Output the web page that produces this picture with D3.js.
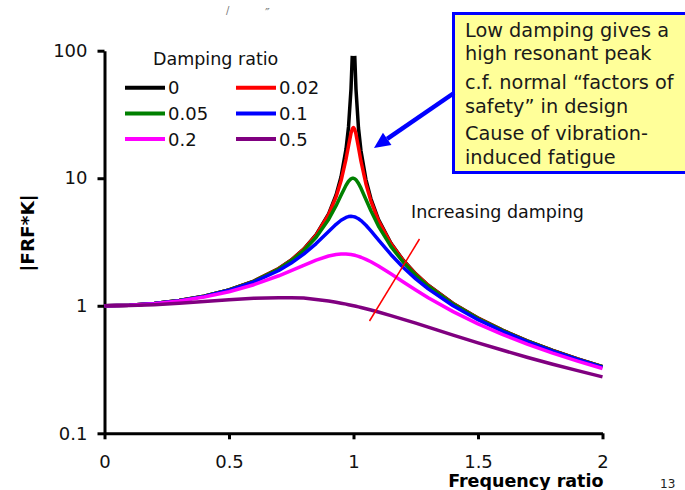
<!DOCTYPE html>
<html>
<head>
<meta charset="utf-8">
<script src="https://cdn.jsdelivr.net/npm/d3@7"></script>
<style>
  body { margin: 0; background: #fff; }
  text { font-family: "DejaVu Sans", Verdana, sans-serif; }
</style>
</head>
<body>
<div id="chart"></div>
<script>
// frequency ratio samples (finer near resonance)
const ratio = [0, 0.1, 0.2, 0.3, 0.4, 0.5, 0.6, 0.7, 0.75, 0.8, 0.85, 0.9, 0.93, 0.95, 0.97, 0.98, 0.99, 0.995,
    1.0, 1.005, 1.01, 1.02, 1.03, 1.05, 1.07, 1.1, 1.15, 1.2, 1.25, 1.3, 1.4, 1.5, 1.6, 1.7, 1.8, 1.9, 2.0];

const damping = ["0", "0.02", "0.05", "0.1", "0.2", "0.5"];

const frf0   = [1, 1.01, 1.042, 1.099, 1.19, 1.333, 1.563, 1.961, 2.286, 2.778, 3.604, 5.263, 7.402, 10.26, 16.92, 25.25, 50.25, 91,
    null, 91, 49.75, 24.75, 16.42, 9.756, 6.901, 4.762, 3.101, 2.273, 1.778, 1.449, 1.042, 0.8, 0.641, 0.529, 0.446, 0.383, 0.333];
const frf002 = [1, 1.01, 1.042, 1.099, 1.19, 1.333, 1.561, 1.958, 2.28, 2.767, 3.577, 5.171, 7.136, 9.556, 14.14, 17.95, 22.56, 24.37,
    25.0, 24.14, 22.16, 17.42, 13.6, 9.028, 6.619, 4.661, 3.07, 2.259, 1.771, 1.445, 1.04, 0.799, 0.6405, 0.5288, 0.4462, 0.383, 0.3332];
const frf005 = [1, 1.01, 1.041, 1.098, 1.189, 1.33, 1.556, 1.943, 2.253, 2.712, 3.446, 4.757, 6.097, 7.346, 8.804, 9.461, 9.903, 10.0,
    10.0, 9.901, 9.711, 9.115, 8.357, 6.815, 5.552, 4.218, 2.921, 2.193, 1.736, 1.424, 1.031, 0.794, 0.638, 0.527, 0.445, 0.382, 0.333];
const frf01  = [1, 1.01, 1.041, 1.097, 1.185, 1.322, 1.536, 1.891, 2.162, 2.538, 3.073, 3.821, 4.35, 4.683, 4.931, 5.001, 5.025, 5.019,
    5.0, 4.969, 4.926, 4.809, 4.655, 4.279, 3.869, 3.288, 2.525, 1.995, 1.625, 1.356, 1.0, 0.778, 0.628, 0.521, 0.441, 0.379, 0.330];
const frf02  = [1, 1.009, 1.038, 1.09, 1.17, 1.288, 1.463, 1.719, 1.885, 2.076, 2.279, 2.457, 2.527, 2.549, 2.548, 2.538, 2.522, 2.512,
    2.5, 2.487, 2.472, 2.439, 2.401, 2.313, 2.213, 2.051, 1.78, 1.536, 1.329, 1.157, 0.9, 0.721, 0.593, 0.498, 0.425, 0.368, 0.322];
const frf05  = [1, 1.005, 1.02, 1.045, 1.078, 1.115, 1.145, 1.157, 1.156, 1.15, 1.122, 1.09, 1.066, 1.048, 1.03, 1.02, 1.01, 1.005,
    1.0, 0.995, 0.99, 0.98, 0.969, 0.948, 0.926, 0.893, 0.837, 0.782, 0.73, 0.68, 0.589, 0.512, 0.448, 0.393, 0.348, 0.31, 0.277];

const xTicks = [0, 0.5, 1, 1.5, 2];
const yTicks = [0.1, 1, 10, 100];

const noteLines = ["Low damping gives a", "high resonant peak", "c.f. normal \u201cfactors of",
    "safety\u201d in design", "Cause of vibration-", "induced fatigue"];

const lineColors = ["#000000", "#ff0000", "#008000", "#0000ff", "#ff00ff", "#800080"];

const width = 685, height = 490;

const svg = d3.select("#chart").append("svg")
    .attr("width", width)
    .attr("height", height);

const x = d3.scaleLinear().domain([0, 2]).range([104.5, 602.5]);
const y = d3.scaleLog().domain([0.1, 100]).range([433.3, 50.7]);

const series = [frf0, frf002, frf005, frf01, frf02, frf05];

// ---------- axes ----------
const xAxis = svg.append("g")
    .attr("transform", `translate(0,${y(0.1)})`)
    .call(d3.axisBottom(x).tickValues(xTicks).tickFormat(d3.format("~g"))
        .tickSize(6).tickSizeOuter(0).tickPadding(16));

const yAxis = svg.append("g")
    .attr("transform", `translate(${x(0)},0)`)
    .call(d3.axisLeft(y).tickValues(yTicks).tickFormat(d3.format("~g"))
        .tickSize(7).tickSizeOuter(0).tickPadding(10));

[xAxis, yAxis].forEach(a => {
    a.select(".domain").attr("stroke", "#000").attr("stroke-width", 3);
    a.selectAll(".tick line").attr("stroke", "#000").attr("stroke-width", 3);
    a.selectAll(".tick text")
        .attr("font-family", "DejaVu Sans")
        .attr("font-size", 18)
        .attr("fill", "#111");
});

svg.append("text")
    .attr("x", x(2) + 1)
    .attr("y", 487)
    .attr("text-anchor", "end")
    .attr("font-size", 17.5)
    .attr("font-weight", "bold")
    .text("Frequency ratio");

svg.append("text")
    .attr("transform", "translate(34,233) rotate(-90)")
    .attr("text-anchor", "middle")
    .attr("font-size", 18.5)
    .attr("font-weight", "bold")
    .text("|FRF*K|");

// ---------- curves ----------
const line = d3.line()
    .defined(d => d[1] != null)
    .x(d => x(d[0]))
    .y(d => y(d[1]));

series.forEach((vals, i) => {
    svg.append("path")
        .datum(ratio.map((r, j) => [r, vals[j]]))
        .attr("fill", "none")
        .attr("stroke", lineColors[i])
        .attr("stroke-width", 3.5)
        .attr("stroke-linejoin", "round")
        .attr("d", line);
});

// ---------- legend ----------
svg.append("text")
    .attr("x", 153)
    .attr("y", 65)
    .attr("font-size", 17.5)
    .attr("fill", "#111")
    .text("Damping ratio");

const leg = svg.append("g").selectAll("g")
    .data(damping)
    .enter().append("g")
    .attr("transform", (d, i) => `translate(${i % 2 ? 236 : 125},${87.7 + Math.floor(i / 2) * 25.7})`);

leg.append("line")
    .attr("x1", 0).attr("x2", 40)
    .attr("stroke", (d, i) => lineColors[i])
    .attr("stroke-width", 4);

leg.append("text")
    .attr("x", 43)
    .attr("y", 6.5)
    .attr("font-size", 18)
    .attr("fill", "#111")
    .text(d => d);

// ---------- annotation box ----------
svg.append("rect")
    .attr("x", 453.5).attr("y", 13.5)
    .attr("width", 260).attr("height", 159)
    .attr("fill", "#ffff99")
    .attr("stroke", "#0000ff")
    .attr("stroke-width", 3);

const baselines = [36.5, 60, 88.5, 113, 140, 163.5];
svg.append("g").selectAll("text")
    .data(noteLines)
    .enter().append("text")
    .attr("x", 465)
    .attr("y", (d, i) => baselines[i])
    .attr("font-size", 19.3)
    .attr("fill", "#1a1a1a")
    .text(d => d);

// blue arrow from the box to the peak
const a0 = [454, 93], a1 = [374, 148];
const ang = Math.atan2(a1[1] - a0[1], a1[0] - a0[0]);
const headLen = 16, headW = 7.5;
const base = [a1[0] - headLen * Math.cos(ang), a1[1] - headLen * Math.sin(ang)];
svg.append("line")
    .attr("x1", a0[0]).attr("y1", a0[1])
    .attr("x2", base[0]).attr("y2", base[1])
    .attr("stroke", "#0000ff")
    .attr("stroke-width", 4.5);
svg.append("polygon")
    .attr("points", [
        a1,
        [base[0] + headW * Math.sin(ang), base[1] - headW * Math.cos(ang)],
        [base[0] - headW * Math.sin(ang), base[1] + headW * Math.cos(ang)]
    ].map(p => p.join(",")).join(" "))
    .attr("fill", "#0000ff");

// increasing damping marker
svg.append("text")
    .attr("x", 411)
    .attr("y", 218)
    .attr("font-size", 17.5)
    .attr("fill", "#111")
    .text("Increasing damping");

svg.append("line")
    .attr("x1", 419.5).attr("y1", 239)
    .attr("x2", 369.5).attr("y2", 321)
    .attr("stroke", "#ff0000")
    .attr("stroke-width", 1.5);

// stray marks at the top and page number
svg.append("text").attr("x", 226).attr("y", 14).attr("font-size", 10).attr("fill", "#777").text("/");
svg.append("text").attr("x", 265).attr("y", 17).attr("font-size", 13).attr("fill", "#777").text("\u2033");

svg.append("text")
    .attr("x", 660)
    .attr("y", 488)
    .attr("font-family", "Liberation Sans")
    .attr("font-size", 12)
    .attr("fill", "#222")
    .text("13");
</script>
</body>
</html>
